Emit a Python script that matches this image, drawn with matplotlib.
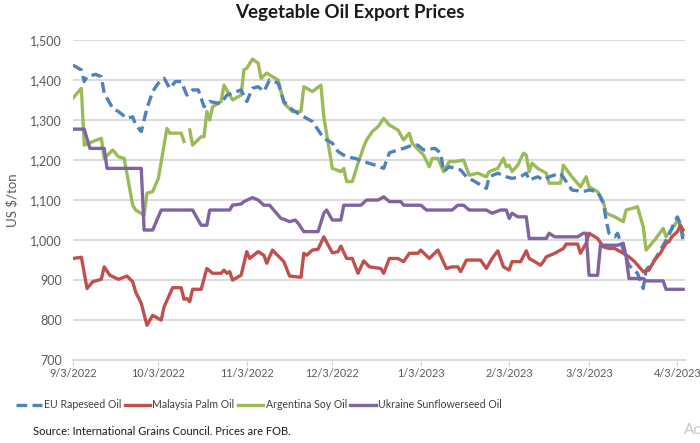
import matplotlib.pyplot as plt
import numpy as np
import pandas as pd

plt.rcParams['font.family'] = ['Lato', 'DejaVu Sans']

# EU Rapeseed Oil
eu_dates = ["2022-09-03", "2022-09-06", "2022-09-07", "2022-09-08", "2022-09-11", "2022-09-13",
            "2022-09-14", "2022-09-17", "2022-09-19", "2022-09-22", "2022-09-24", "2022-09-25",
            "2022-09-27", "2022-09-29", "2022-10-01", "2022-10-03", "2022-10-05", "2022-10-07",
            "2022-10-09", "2022-10-11", "2022-10-13", "2022-10-15", "2022-10-17", "2022-10-19",
            "2022-10-21", "2022-10-24", "2022-10-25", "2022-10-27", "2022-10-29", "2022-11-01",
            "2022-11-03", "2022-11-05", "2022-11-07", "2022-11-09", "2022-11-11", "2022-11-14",
            "2022-11-16", "2022-11-19", "2022-11-22", "2022-11-26", "2022-11-28", "2022-11-30",
            "2022-12-03", "2022-12-05", "2022-12-07", "2022-12-08", "2022-12-11", "2022-12-14",
            "2022-12-18", "2022-12-21", "2022-12-23", "2022-12-26", "2022-12-28", "2022-12-31",
            "2023-01-02", "2023-01-04", "2023-01-08", "2023-01-10", "2023-01-11", "2023-01-13",
            "2023-01-17", "2023-01-19", "2023-01-22", "2023-01-26", "2023-01-27", "2023-01-30",
            "2023-02-02", "2023-02-04", "2023-02-07", "2023-02-09", "2023-02-10", "2023-02-13",
            "2023-02-15", "2023-02-17", "2023-02-21", "2023-02-23", "2023-02-25", "2023-03-01",
            "2023-03-03", "2023-03-06", "2023-03-08", "2023-03-09", "2023-03-10", "2023-03-12",
            "2023-03-13", "2023-03-15", "2023-03-17", "2023-03-20", "2023-03-22", "2023-03-23",
            "2023-03-26", "2023-03-29", "2023-03-31", "2023-04-02", "2023-04-03", "2023-04-04",
            "2023-04-05"]
eu_vals = [1437, 1425, 1396, 1408, 1414, 1408,
           1367, 1329, 1321, 1304, 1308, 1288,
           1271, 1329, 1371, 1392, 1404, 1379,
           1396, 1396, 1362, 1375, 1375, 1333,
           1346, 1342, 1342, 1362, 1367, 1375,
           1346, 1379, 1383, 1371, 1400, 1392,
           1346, 1325, 1312, 1296, 1275, 1254,
           1242, 1221, 1212, 1208, 1204, 1196,
           1187, 1179, 1218, 1225, 1229, 1237,
           1237, 1225, 1229, 1217, 1171, 1183,
           1175, 1158, 1146, 1129, 1158, 1167,
           1158, 1154, 1158, 1167, 1150, 1158,
           1150, 1158, 1167, 1146, 1125, 1121,
           1125, 1121, 1092, 1050, 1017, 1008,
           1017, 975, 937, 917, 879, 925,
           950, 987, 1012, 1046, 1058, 1040,
           996]

# Malaysia Palm Oil
my_dates = ["2022-09-03", "2022-09-06", "2022-09-08", "2022-09-10", "2022-09-13", "2022-09-14",
            "2022-09-16", "2022-09-19", "2022-09-22", "2022-09-24", "2022-09-25", "2022-09-27",
            "2022-09-29", "2022-10-01", "2022-10-04", "2022-10-05", "2022-10-08", "2022-10-11",
            "2022-10-12", "2022-10-13", "2022-10-14", "2022-10-15", "2022-10-18", "2022-10-20",
            "2022-10-22", "2022-10-25", "2022-10-26", "2022-10-27", "2022-10-28", "2022-10-29",
            "2022-11-01", "2022-11-03", "2022-11-04", "2022-11-07", "2022-11-09", "2022-11-10",
            "2022-11-12", "2022-11-16", "2022-11-18", "2022-11-22", "2022-11-23", "2022-11-24",
            "2022-11-26", "2022-11-28", "2022-11-30", "2022-12-03", "2022-12-05", "2022-12-06",
            "2022-12-08", "2022-12-10", "2022-12-12", "2022-12-14", "2022-12-16", "2022-12-20",
            "2022-12-21", "2022-12-23", "2022-12-26", "2022-12-28", "2022-12-30", "2023-01-02",
            "2023-01-03", "2023-01-06", "2023-01-09", "2023-01-12", "2023-01-14", "2023-01-16",
            "2023-01-17", "2023-01-19", "2023-01-24", "2023-01-26", "2023-01-28", "2023-01-30",
            "2023-02-01", "2023-02-03", "2023-02-04", "2023-02-07", "2023-02-09", "2023-02-10",
            "2023-02-12", "2023-02-14", "2023-02-15", "2023-02-16", "2023-02-19", "2023-02-22",
            "2023-02-23", "2023-02-27", "2023-02-28", "2023-03-02", "2023-03-03", "2023-03-06",
            "2023-03-08", "2023-03-10", "2023-03-12", "2023-03-14", "2023-03-15", "2023-03-17",
            "2023-03-19", "2023-03-22", "2023-03-24", "2023-03-26", "2023-03-28", "2023-03-30",
            "2023-03-31", "2023-04-01", "2023-04-03", "2023-04-04", "2023-04-05"]
my_vals = [954, 957, 879, 896, 902, 933,
           912, 902, 910, 896, 871, 842,
           787, 812, 800, 833, 881, 881,
           852, 854, 846, 877, 877, 929,
           917, 917, 925, 917, 921, 900,
           912, 971, 954, 971, 962, 942,
           975, 946, 910, 907, 967, 962,
           975, 977, 1008, 968, 971, 985,
           954, 954, 917, 948, 933, 929,
           917, 954, 954, 946, 967, 967,
           975, 954, 975, 929, 933, 933,
           921, 950, 950, 929, 954, 973,
           933, 925, 946, 946, 973, 954,
           946, 937, 946, 958, 967, 979,
           990, 990, 967, 992, 1017, 1004,
           983, 979, 979, 971, 967, 958,
           946, 921, 925, 950, 967, 992,
           996, 1008, 1021, 1037, 1025]

# Argentina Soy Oil (gap around 13 Oct)
ar_dates = ["2022-09-03", "2022-09-06", "2022-09-07", "2022-09-10", "2022-09-13", "2022-09-14",
            "2022-09-17", "2022-09-19", "2022-09-21", "2022-09-24", "2022-09-25", "2022-09-28",
            "2022-09-29", "2022-10-01", "2022-10-03", "2022-10-06", "2022-10-07", "2022-10-11",
            "2022-10-12", "2022-10-13", "2022-10-14", "2022-10-15", "2022-10-18", "2022-10-19",
            "2022-10-20", "2022-10-21", "2022-10-22", "2022-10-25", "2022-10-26", "2022-10-29",
            "2022-11-01", "2022-11-02", "2022-11-03", "2022-11-05", "2022-11-07", "2022-11-08",
            "2022-11-10", "2022-11-12", "2022-11-14", "2022-11-16", "2022-11-19", "2022-11-22",
            "2022-11-23", "2022-11-26", "2022-11-29", "2022-11-30", "2022-12-03", "2022-12-06",
            "2022-12-07", "2022-12-08", "2022-12-10", "2022-12-12", "2022-12-14", "2022-12-15",
            "2022-12-17", "2022-12-19", "2022-12-21", "2022-12-23", "2022-12-26", "2022-12-28",
            "2022-12-30", "2022-12-31", "2023-01-04", "2023-01-06", "2023-01-07", "2023-01-09",
            "2023-01-11", "2023-01-13", "2023-01-15", "2023-01-18", "2023-01-20", "2023-01-23",
            "2023-01-26", "2023-01-27", "2023-01-30", "2023-02-01", "2023-02-02", "2023-02-03",
            "2023-02-04", "2023-02-06", "2023-02-08", "2023-02-09", "2023-02-10", "2023-02-11",
            "2023-02-13", "2023-02-15", "2023-02-16", "2023-02-17", "2023-02-21", "2023-02-22",
            "2023-02-25", "2023-02-28", "2023-03-02", "2023-03-03", "2023-03-06", "2023-03-08",
            "2023-03-09", "2023-03-12", "2023-03-15", "2023-03-16", "2023-03-20", "2023-03-22",
            "2023-03-23", "2023-03-26", "2023-03-29", "2023-03-30", "2023-04-02", "2023-04-03",
            "2023-04-04", "2023-04-05"]
ar_vals = [1354, 1379, 1237, 1246, 1254, 1204,
           1225, 1208, 1204, 1087, 1075, 1062,
           1117, 1121, 1154, 1279, 1267, 1267,
           1246, np.nan, 1275, 1237, 1258, 1258,
           1321, 1300, 1333, 1346, 1387, 1350,
           1362, 1425, 1429, 1452, 1442, 1404,
           1417, 1408, 1400, 1342, 1321, 1321,
           1383, 1371, 1387, 1308, 1179, 1171,
           1179, 1146, 1146, 1192, 1233, 1250,
           1271, 1283, 1304, 1287, 1275, 1250,
           1267, 1242, 1212, 1183, 1204, 1204,
           1171, 1196, 1196, 1200, 1162, 1167,
           1158, 1171, 1179, 1204, 1183, 1187,
           1171, 1187, 1217, 1212, 1171, 1192,
           1179, 1171, 1167, 1142, 1142, 1187,
           1158, 1133, 1158, 1133, 1121, 1096,
           1067, 1058, 1046, 1075, 1083, 1033,
           975, 1000, 1029, 1008, 1037, 1050,
           1037, 1012]

# Ukraine Sunflowerseed Oil
ua_dates = ["2022-09-03", "2022-09-07", "2022-09-09", "2022-09-14", "2022-09-15", "2022-09-27",
            "2022-09-28", "2022-10-01", "2022-10-04", "2022-10-15", "2022-10-18", "2022-10-20",
            "2022-10-21", "2022-10-28", "2022-10-29", "2022-11-01", "2022-11-02", "2022-11-05",
            "2022-11-07", "2022-11-09", "2022-11-11", "2022-11-15", "2022-11-16", "2022-11-18",
            "2022-11-20", "2022-11-21", "2022-11-23", "2022-11-28", "2022-11-30", "2022-12-01",
            "2022-12-03", "2022-12-06", "2022-12-07", "2022-12-13", "2022-12-15", "2022-12-19",
            "2022-12-21", "2022-12-23", "2022-12-27", "2022-12-28", "2023-01-03", "2023-01-05",
            "2023-01-14", "2023-01-16", "2023-01-18", "2023-01-20", "2023-01-26", "2023-01-28",
            "2023-01-31", "2023-02-02", "2023-02-03", "2023-02-04", "2023-02-06", "2023-02-09",
            "2023-02-10", "2023-02-16", "2023-02-17", "2023-02-19", "2023-02-27", "2023-03-01",
            "2023-03-02", "2023-03-03", "2023-03-06", "2023-03-07", "2023-03-13", "2023-03-15",
            "2023-03-16", "2023-03-17", "2023-03-22", "2023-03-23", "2023-03-29", "2023-03-30",
            "2023-04-05"]
ua_vals = [1277, 1277, 1229, 1229, 1179, 1179,
           1025, 1025, 1075, 1075, 1037, 1037,
           1075, 1075, 1087, 1090, 1096, 1106,
           1100, 1087, 1087, 1054, 1052, 1046,
           1050, 1042, 1021, 1021, 1067, 1075,
           1050, 1050, 1087, 1087, 1100, 1100,
           1108, 1096, 1096, 1087, 1087, 1075,
           1075, 1087, 1087, 1075, 1075, 1067,
           1075, 1075, 1054, 1067, 1058, 1058,
           1004, 1004, 1017, 1008, 1008, 1017,
           1017, 912, 912, 987, 987, 992,
           958, 904, 904, 898, 898, 877,
           877]

tick_dates = ["2022-09-03", "2022-10-03", "2022-11-03", "2022-12-03",
              "2023-01-03", "2023-02-03", "2023-03-03", "2023-04-03"]
tick_labels = ["9/3/2022", "10/3/2022", "11/3/2022", "12/3/2022",
               "1/3/2023", "2/3/2023", "3/3/2023", "4/3/2023"]

fig = plt.figure(figsize=(7, 4.43), dpi=100)
ax = fig.add_axes([0.104, 0.187, 0.875, 0.723])

lw = 2.4
ax.plot(pd.to_datetime(eu_dates), eu_vals, color='#4F81BD', lw=lw, linestyle=(0, (3.2, 1.6)),
        label='EU Rapeseed Oil', zorder=3)
ax.plot(pd.to_datetime(my_dates), my_vals, color='#C0504D', lw=lw, label='Malaysia Palm Oil', zorder=3)
ax.plot(pd.to_datetime(ar_dates), ar_vals, color='#9BBB59', lw=lw, label='Argentina Soy Oil', zorder=2)
ax.plot(pd.to_datetime(ua_dates), ua_vals, color='#8064A2', lw=lw, label='Ukraine Sunflowerseed Oil', zorder=3)

ax.set_ylim(700, 1500)
ax.set_yticks(range(700, 1501, 100))
ax.yaxis.set_major_formatter(plt.FuncFormatter(lambda v, p: f"{int(v):,}"))
ax.set_xlim(pd.Timestamp("2022-09-03"), pd.Timestamp("2023-04-05 18:00"))
ax.set_xticks(pd.to_datetime(tick_dates))
ax.set_xticklabels(tick_labels)

ax.grid(axis='y', color='#d9d9d9', lw=1.3)
ax.set_axisbelow(True)
for s in ['top', 'right', 'left']:
    ax.spines[s].set_visible(False)
ax.spines['bottom'].set_color('#d9d9d9')
ax.spines['bottom'].set_linewidth(1.3)
ax.tick_params(axis='y', length=0, labelsize=9, labelcolor='#595959', pad=8)
ax.tick_params(axis='x', length=4, color='#d9d9d9', labelsize=7.8, labelcolor='#595959', pad=2)

ax.set_ylabel('US $/ton', fontsize=9.5, color='#595959', labelpad=8)

fig.text(0.5, 0.972, 'Vegetable Oil Export Prices', ha='center', va='center',
         fontsize=13.5, fontweight='bold', color='#1a1a1a')

fig.legend(loc='center', bbox_to_anchor=(0.37, 0.086), ncol=4, frameon=False,
           fontsize=7.6, labelcolor='#404040', handlelength=2.4, handletextpad=0.2,
           columnspacing=0.35, borderpad=0.2)

fig.text(0.047, 0.025, 'Source: International Grains Council. Prices are FOB.',
         ha='left', va='center', fontsize=8, color='#1a1a1a')
fig.text(0.977, 0.03, 'Ac', ha='left', va='center', fontsize=11, color='#c8c8c8')

fig.savefig('out.png', dpi=100)
